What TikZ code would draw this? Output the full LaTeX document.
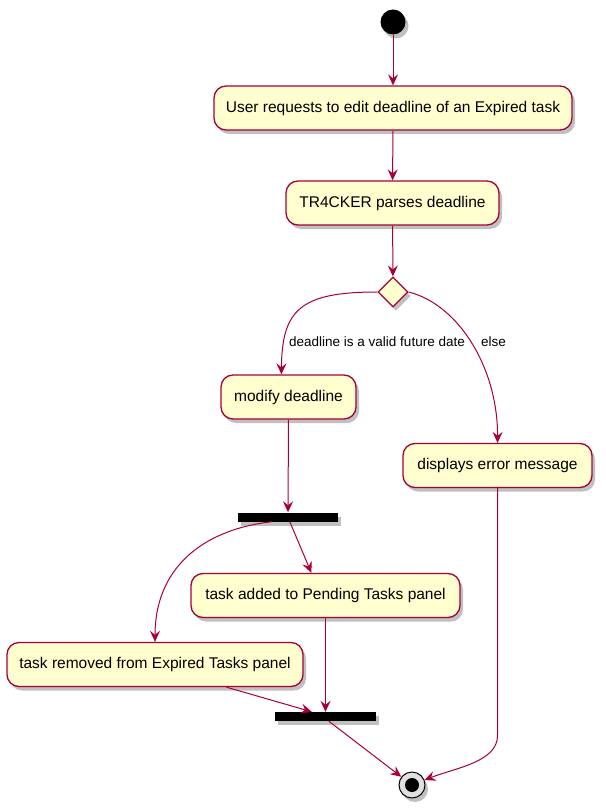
\documentclass[tikz,border=0pt]{standalone}
\usepackage{fontspec}
\setmainfont{Liberation Sans}
\usetikzlibrary{arrows.meta,shadows,calc,shapes.geometric}
\definecolor{umlred}{HTML}{A80036}
\definecolor{umlfill}{HTML}{FEFECE}
\tikzset{
  shd/.style={drop shadow={shadow xshift=3pt, shadow yshift=-4pt, fill=black!45, opacity=0.55}},
  act/.style={draw=umlred, fill=umlfill, line width=1.3pt, rounded corners=12pt,
    minimum height=44pt, inner sep=0pt, font=\fontsize{15.5}{18}\selectfont, shd},
  flow/.style={draw=umlred, line width=1pt, -{Stealth[length=11pt,width=10pt,inset=4pt]}},
  bar/.style={fill=black, draw=none, inner sep=0pt, shd},
  lbl/.style={font=\fontsize{13.5}{16}\selectfont, anchor=west, inner sep=0pt},
  dec/.style={diamond, aspect=1, draw=umlred, fill=umlfill, line width=1.3pt,
    minimum width=30pt, minimum height=30pt, inner sep=0pt, shd}
}
\begin{document}
\begin{tikzpicture}[x=1pt,y=-1pt]
\useasboundingbox (0,0) rectangle (605,810);
% nodes
\node[circle, fill=black, minimum size=25pt, inner sep=0pt, shd] (start) at (393,22) {};
\node[act, minimum width=358pt] (req) at (393,108) {User requests to edit deadline of an Expired task};
\node[act, minimum width=213pt] (parse) at (392.5,203) {TR4CKER parses deadline};
\node[dec] (dec) at (393,292) {};
\node[act, minimum width=135pt] (mod) at (288.5,397) {modify deadline};
\node[act, minimum width=189pt] (err) at (497.5,465.5) {displays error message};
\node[bar, minimum width=100pt, minimum height=9pt] (fork) at (288,517) {};
\node[act, minimum width=269pt] (added) at (325.5,595.5) {task added to Pending Tasks panel};
\node[act, minimum width=296pt] (removed) at (155,664.5) {task removed from Expired Tasks panel};
\node[bar, minimum width=101pt, minimum height=9pt] (join) at (325.5,716.5) {};
\node[circle, draw=black, fill=black!12, line width=1pt, minimum size=26pt, inner sep=0pt, shd] (endc) at (412,785) {};
\node[circle, fill=black, minimum size=14pt, inner sep=0pt] (endin) at (endc) {};
% labels
\node[lbl] (l1) at (289,342) {deadline is a valid future date};
\node[lbl] (l2) at (481,342) {else};
% connectors
\draw[flow] (start) -- (req);
\draw[flow] (req) -- (parse);
\draw[flow] (parse) -- (dec);
\draw[flow] (dec.west) .. controls (300,292) and (282,310) .. ($(mod.north west)+(61,0)$);
\draw[flow] (dec.east) .. controls (460,305) and (498,370) .. (err.north);
\draw[flow] (mod.south) -- (fork.north);
\draw[flow] ($(fork.south west)+(34,0)$) .. controls (200,530) and (155,570) .. (removed.north);
\draw[flow] ($(fork.south west)+(52,0)$) -- ($(added.north west)+(121,0)$);
\draw[flow] (added.south) -- (join.north);
\draw[flow] ($(removed.south west)+(220,0)$) -- ($(join.north west)+(37,0)$);
\draw[flow] ($(join.south west)+(54,0)$) -- (endc);
\draw[flow] (err.south) -- ($(err.south)+(0,247)$) .. controls (498,762) and (455,768) .. (endc);
\end{tikzpicture}
\end{document}
